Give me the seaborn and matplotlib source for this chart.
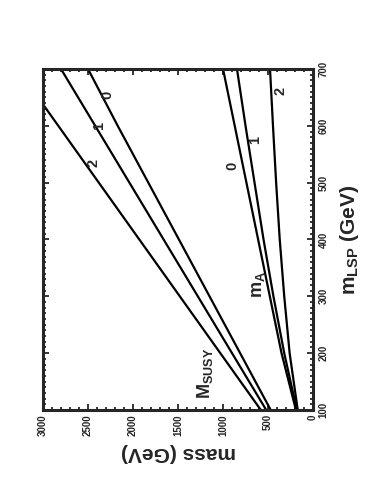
import matplotlib
matplotlib.use("Agg")
import matplotlib.pyplot as plt
from matplotlib.ticker import MultipleLocator
import seaborn as sns
import pandas as pd

# m_LSP grid (GeV) and curves
m_lsp = [100, 200, 300, 400, 500, 600, 700]

m_susy_0 = [470, 810, 1150, 1490, 1830, 2170, 2500]
m_susy_1 = [520, 900, 1280, 1660, 2040, 2420, 2800]
m_susy_2 = [580, 1030, 1480, 1930, 2380, 2830, 3280]

m_a_0 = [190, 350, 480, 610, 740, 870, 1000]
m_a_1 = [180, 320, 440, 550, 650, 750, 845]
m_a_2 = [170, 260, 320, 370, 410, 445, 478]

curve_names = ["susy0", "susy1", "susy2", "a0", "a1", "a2"]
curve_values = [m_susy_0, m_susy_1, m_susy_2, m_a_0, m_a_1, m_a_2]

sns.set_style("ticks")
plt.rcParams["font.family"] = ["Liberation Sans", "DejaVu Sans"]
plt.rcParams["font.weight"] = "bold"
plt.rcParams["mathtext.fontset"] = "custom"
plt.rcParams["mathtext.rm"] = "Liberation Sans:bold"
plt.rcParams["mathtext.bf"] = "Liberation Sans:bold"

fig = plt.figure(figsize=(3.74, 5.0), dpi=100)
ax = fig.add_axes([0.115, 0.18, 0.722, 0.682])

rows = []
for name, vals in zip(curve_names, curve_values):
    for x, y in zip(m_lsp, vals):
        rows.append({"curve": name, "m_lsp": x, "mass": y})
df = pd.DataFrame(rows)

# figure is drawn rotated: mass runs right-to-left, m_LSP runs upward
for name in curve_names:
    sub = df[df["curve"] == name]
    sns.lineplot(data=sub, x="mass", y="m_lsp", sort=False, estimator=None,
                 color="black", lw=1.6, ax=ax)

ax.set_xlim(3000, 0)
ax.set_ylim(100, 700)

ax.xaxis.set_major_locator(MultipleLocator(500))
ax.xaxis.set_minor_locator(MultipleLocator(100))
ax.yaxis.set_major_locator(MultipleLocator(100))
ax.yaxis.set_minor_locator(MultipleLocator(10))

ax.yaxis.tick_right()
ax.yaxis.set_label_position("right")
ax.tick_params(which="both", direction="in", top=True, bottom=True,
               left=True, right=True, width=1.3)
ax.tick_params(which="major", length=4.5)
ax.tick_params(which="minor", length=2.4)
ax.tick_params(axis="x", labelrotation=90, labelsize=7, pad=3)
ax.tick_params(axis="y", labelrotation=90, labelsize=7, pad=4,
               labelright=True, labelleft=False)
for lab in ax.get_yticklabels():
    lab.set_verticalalignment("center")

for sp in ax.spines.values():
    sp.set_linewidth(2.2)
    sp.set_visible(True)

ax.set_xlabel("mass (GeV)", rotation=180, fontsize=15, fontweight="bold",
              labelpad=5)
ax.set_ylabel(r"m$_{\mathbf{LSP}}$ (GeV)", rotation=90, fontsize=15,
              fontweight="bold", labelpad=7)

# curve annotations
ax.text(1200, 165, r"M$_{\mathbf{SUSY}}$", rotation=90, fontsize=13,
        fontweight="bold", ha="center", va="center")
ax.text(610, 320, r"m$_{\mathbf{A}}$", rotation=90, fontsize=13,
        fontweight="bold", ha="center", va="center")
for x, y, s in [(2440, 535, "2"), (2380, 600, "1"), (2290, 655, "0"),
                (900, 530, "0"), (640, 575, "1"), (360, 662, "2")]:
    ax.text(x, y, s, rotation=90, fontsize=10.5, fontweight="bold",
            ha="center", va="center")

fig.savefig("out.png", dpi=100)
